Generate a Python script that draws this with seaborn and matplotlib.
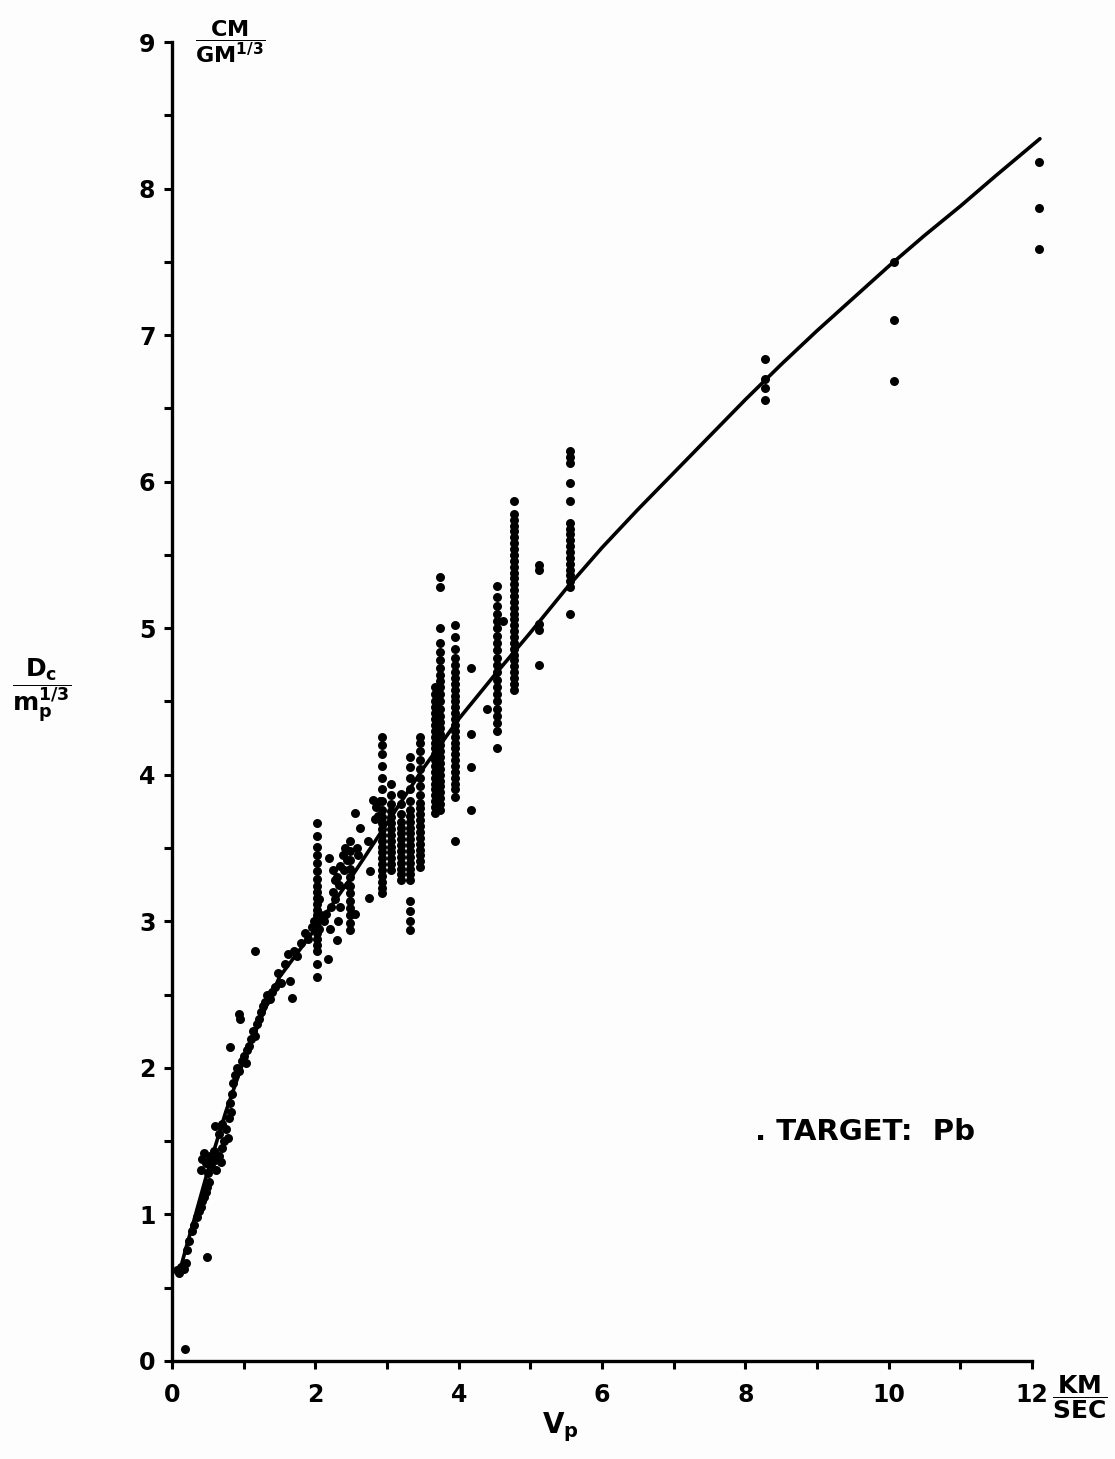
import matplotlib
matplotlib.use("Agg")
import matplotlib.pyplot as plt
from matplotlib.ticker import MultipleLocator
import seaborn as sns
import pandas as pd

# fitted curve
curve_v = [0.10, 0.20, 0.30, 0.50, 0.75, 1.00, 1.25, 1.50, 2.00, 2.50, 3.00,
           3.50, 4.00, 4.50, 5.00, 5.50, 6.00, 6.50, 7.00, 7.50, 8.00, 8.50,
           9.00, 9.50, 10.00, 10.50, 11.00, 11.50, 12.11]
curve_d = [0.60, 0.78, 0.95, 1.30, 1.70, 2.05, 2.35, 2.62, 2.95, 3.30, 3.67,
           4.04, 4.38, 4.68, 4.97, 5.27, 5.55, 5.81, 6.06, 6.31, 6.56, 6.80,
           7.03, 7.25, 7.47, 7.68, 7.88, 8.09, 8.34]

# low-velocity band of measurements
band_v = [0.07, 0.10, 0.13, 0.16, 0.19, 0.21, 0.24, 0.28, 0.31, 0.35, 0.37, 0.40,
          0.42, 0.44, 0.47, 0.49, 0.52, 0.40, 0.42, 0.45, 0.48, 0.50, 0.53, 0.55,
          0.58, 0.60, 0.62, 0.65, 0.68, 0.70, 0.72, 0.60, 0.65, 0.70, 0.75, 0.78,
          0.80, 0.82, 0.81, 0.84, 0.85, 0.88, 0.90, 0.94, 0.97, 1.00, 1.03, 1.05,
          0.81, 0.93, 0.95, 1.08, 1.10, 1.13, 1.16, 1.18, 1.21, 1.24, 1.27, 1.30,
          1.33, 1.36, 1.40, 1.44, 1.48, 1.52, 1.58, 1.65, 1.68, 1.16, 1.62, 1.70,
          1.75, 1.80, 1.85, 1.90, 1.95, 1.98, 0.49, 0.18]
band_d = [0.62, 0.60, 0.64, 0.63, 0.67, 0.76, 0.82, 0.89, 0.93, 0.98, 1.02, 1.05,
          1.09, 1.12, 1.15, 1.19, 1.22, 1.30, 1.38, 1.42, 1.35, 1.28, 1.40, 1.33,
          1.43, 1.37, 1.30, 1.40, 1.36, 1.45, 1.50, 1.60, 1.55, 1.62, 1.58, 1.52,
          1.66, 1.70, 1.76, 1.82, 1.90, 1.95, 2.00, 1.98, 2.05, 2.08, 2.03, 2.12,
          2.14, 2.37, 2.33, 2.15, 2.20, 2.25, 2.22, 2.30, 2.33, 2.38, 2.42, 2.45,
          2.50, 2.47, 2.52, 2.55, 2.65, 2.58, 2.71, 2.59, 2.48, 2.80, 2.78, 2.80,
          2.76, 2.85, 2.92, 2.88, 2.96, 3.00, 0.71, 0.08]

# scattered points between the columns
loose_v = [2.05, 2.05, 2.05, 2.12, 2.15, 2.18, 2.19, 2.20, 2.22, 2.25, 2.25, 2.28,
           2.28, 2.30, 2.30, 2.32, 2.33, 2.35, 2.35, 2.38, 2.40, 2.42, 2.44, 2.45,
           2.55, 2.55, 2.58, 2.60, 2.62, 2.74, 2.75, 2.76, 2.80, 2.83, 2.85, 2.88,
           2.90, 4.40, 4.62]
loose_d = [2.95, 3.05, 3.15, 3.00, 3.05, 2.74, 3.43, 2.95, 3.10, 3.20, 3.35, 3.15,
           3.28, 2.87, 3.30, 3.00, 3.25, 3.10, 3.38, 3.45, 3.35, 3.50, 3.42, 3.25,
           3.74, 3.05, 3.50, 3.45, 3.64, 3.55, 3.16, 3.34, 3.83, 3.70, 3.78, 3.72,
           3.82, 4.45, 5.05]

# vertical columns of repeated shots at one velocity
column_v = [2.02, 2.48, 2.93, 3.06, 3.20, 3.32, 3.46, 3.67, 3.74, 3.95, 4.17,
            4.53, 4.77, 5.12, 5.55, 8.27, 10.07, 12.10]
column_d = [
    [2.62, 2.71, 2.80, 2.84, 2.88, 2.92, 2.96, 3.00, 3.04, 3.08, 3.12, 3.16, 3.20,
     3.24, 3.29, 3.34, 3.40, 3.45, 3.51, 3.58, 3.67],
    [2.94, 2.99, 3.04, 3.09, 3.14, 3.19, 3.24, 3.30, 3.36, 3.42, 3.48, 3.55],
    [3.19, 3.23, 3.27, 3.31, 3.35, 3.39, 3.43, 3.47, 3.51, 3.55, 3.59, 3.63, 3.67,
     3.71, 3.76, 3.82, 3.90, 3.98, 4.06, 4.14, 4.20, 4.26],
    [3.35, 3.39, 3.43, 3.47, 3.51, 3.55, 3.59, 3.63, 3.67, 3.71, 3.75, 3.80, 3.86,
     3.94],
    [3.28, 3.32, 3.36, 3.40, 3.44, 3.48, 3.52, 3.56, 3.60, 3.64, 3.68, 3.73, 3.80,
     3.87],
    [2.94, 3.00, 3.07, 3.14, 3.28, 3.32, 3.36, 3.40, 3.44, 3.48, 3.52, 3.56, 3.60,
     3.64, 3.68, 3.72, 3.76, 3.82, 3.90, 3.98, 4.05, 4.12],
    [3.37, 3.41, 3.45, 3.49, 3.53, 3.57, 3.61, 3.65, 3.69, 3.73, 3.77, 3.81, 3.86,
     3.92, 3.98, 4.04, 4.10, 4.16, 4.22, 4.26],
    [3.74, 3.78, 3.82, 3.86, 3.90, 3.94, 3.98, 4.02, 4.06, 4.10, 4.14, 4.18, 4.22,
     4.26, 4.30, 4.34, 4.38, 4.42, 4.46, 4.50, 4.55, 4.60],
    [3.76, 3.80, 3.84, 3.88, 3.92, 3.96, 4.00, 4.04, 4.08, 4.12, 4.16, 4.20, 4.24,
     4.28, 4.32, 4.36, 4.40, 4.45, 4.50, 4.55, 4.60, 4.64, 4.68, 4.73, 4.78, 4.84,
     4.90, 5.00, 5.28, 5.35],
    [3.55, 3.85, 3.90, 3.94, 3.98, 4.02, 4.06, 4.10, 4.14, 4.18, 4.22, 4.26, 4.30,
     4.34, 4.38, 4.42, 4.46, 4.50, 4.54, 4.58, 4.62, 4.66, 4.70, 4.75, 4.80, 4.86,
     4.94, 5.02],
    [3.76, 4.05, 4.28, 4.73],
    [4.18, 4.30, 4.35, 4.40, 4.45, 4.50, 4.55, 4.60, 4.65, 4.70, 4.75, 4.80, 4.85,
     4.90, 4.95, 5.00, 5.05, 5.10, 5.15, 5.21, 5.29],
    [4.58, 4.62, 4.66, 4.70, 4.74, 4.78, 4.82, 4.86, 4.90, 4.94, 4.98, 5.02, 5.06,
     5.10, 5.14, 5.18, 5.22, 5.26, 5.30, 5.34, 5.38, 5.42, 5.46, 5.50, 5.54, 5.58,
     5.62, 5.66, 5.70, 5.74, 5.78, 5.87],
    [4.75, 4.99, 5.03, 5.40, 5.43],
    [5.10, 5.28, 5.32, 5.36, 5.40, 5.44, 5.48, 5.52, 5.56, 5.60, 5.64, 5.68, 5.72,
     5.87, 5.99, 6.13, 6.17, 6.21],
    [6.56, 6.64, 6.70, 6.84],
    [6.69, 7.10, 7.50],
    [7.59, 7.87, 8.18],
]

x_major = [0, 2, 4, 6, 8, 10, 12]
y_major = [0, 1, 2, 3, 4, 5, 6, 7, 8, 9]

sns.set_theme(style="ticks")
plt.rcParams["font.family"] = ["DejaVu Sans"]
plt.rcParams["font.weight"] = "bold"
plt.rcParams["mathtext.fontset"] = "dejavusans"
plt.rcParams["mathtext.default"] = "bf"
for key in ["text.color", "xtick.color", "ytick.color", "xtick.labelcolor",
            "ytick.labelcolor", "axes.edgecolor"]:
    plt.rcParams[key] = "black"

cols = [pd.DataFrame({"v": v, "d": ds}) for v, ds in zip(column_v, column_d)]
points = pd.concat(
    [pd.DataFrame({"v": band_v, "d": band_d}),
     pd.DataFrame({"v": loose_v, "d": loose_d})] + cols,
    ignore_index=True,
)
curve = pd.DataFrame({"v": curve_v, "d": curve_d})

fig = plt.figure(figsize=(11.15, 14.59), dpi=100, facecolor="#fdfdfd")
ax = fig.add_axes([0.1543, 0.0672, 0.7713, 0.9040])
ax.set_facecolor("#fdfdfd")

sns.scatterplot(data=points, x="v", y="d", ax=ax, color="black", s=42,
                linewidth=0, clip_on=False, legend=False)
sns.lineplot(data=curve, x="v", y="d", ax=ax, color="black", lw=2.6,
             estimator=None, sort=True, clip_on=False)

ax.set_xlim(0, 12)
ax.set_ylim(0, 9)
ax.set_xticks(x_major)
ax.set_yticks(y_major)
ax.xaxis.set_minor_locator(MultipleLocator(1))
ax.yaxis.set_minor_locator(MultipleLocator(0.5))
ax.tick_params(which="both", direction="out", length=6, width=2.2, color="black")
ax.tick_params(axis="x", labelsize=17, pad=10)
ax.tick_params(axis="y", labelsize=17, pad=6)
for lab in ax.get_xticklabels() + ax.get_yticklabels():
    lab.set_fontweight("bold")
ax.set_xlabel("")
ax.set_ylabel("")
sns.despine(ax=ax)
for side in ["left", "bottom"]:
    ax.spines[side].set_linewidth(2.4)
    ax.spines[side].set_color("black")

ax.text(0.32, 9.0, r"$\dfrac{CM}{GM^{1/3}}$", fontsize=16, ha="left", va="center")
ax.text(8.14, 1.56, ". TARGET:  Pb", fontsize=21, fontweight="bold",
        ha="left", va="center")
fig.text(42 / 1115, 1 - 690 / 1459, r"$\dfrac{D_c}{m_p^{1/3}}$", fontsize=18,
         ha="center", va="center")
fig.text(560 / 1115, 1 - 1427 / 1459, r"$V_p$", fontsize=20,
         ha="center", va="center")
fig.text(1080 / 1115, 1 - 1397 / 1459, r"$\dfrac{KM}{SEC}$", fontsize=18,
         ha="center", va="center")

fig.savefig("out.png", dpi=100, facecolor=fig.get_facecolor())
